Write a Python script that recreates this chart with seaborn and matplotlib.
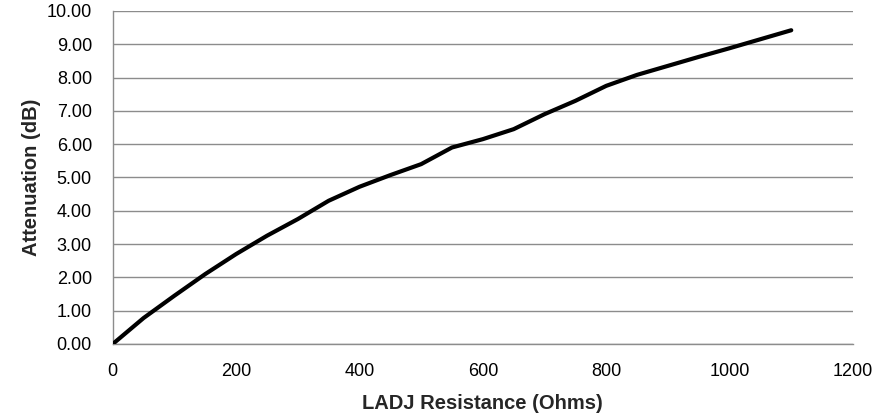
import pandas as pd
import matplotlib
matplotlib.use("Agg")
import matplotlib.pyplot as plt
import seaborn as sns
from matplotlib.ticker import FormatStrFormatter

# values
resistance = [0, 50, 100, 150, 200, 250, 300, 350, 400, 450, 500, 550,
              600, 650, 700, 750, 800, 850, 900, 950, 1000, 1050, 1100]
attenuation = [0.0, 0.78, 1.45, 2.1, 2.7, 3.25, 3.75, 4.3, 4.72, 5.07, 5.4, 5.9,
               6.15, 6.45, 6.9, 7.3, 7.75, 8.08, 8.35, 8.62, 8.88, 9.15, 9.42]
x_ticks = [0, 200, 400, 600, 800, 1000, 1200]
y_ticks = [0, 1, 2, 3, 4, 5, 6, 7, 8, 9, 10]

df = pd.DataFrame({"LADJ Resistance (Ohms)": resistance,
                   "Attenuation (dB)": attenuation})

sns.set_style("white")
plt.rcParams['font.family'] = ['Liberation Sans', 'DejaVu Sans']

fig = plt.figure(figsize=(8.95, 4.2), dpi=100)
ax = fig.add_axes([0.126, 0.181, 0.827, 0.793])

sns.lineplot(data=df, x="LADJ Resistance (Ohms)", y="Attenuation (dB)",
             color="black", linewidth=3.0, ax=ax, zorder=3)
ax.lines[0].set_solid_joinstyle("round")
ax.lines[0].set_solid_capstyle("round")

ax.set_xlim(0, 1200)
ax.set_ylim(0, 10)
ax.set_xticks(x_ticks)
ax.set_yticks(y_ticks)
ax.yaxis.set_major_formatter(FormatStrFormatter("%.2f"))
ax.grid(axis="y", color="#8c8c8c", linewidth=1)
ax.set_axisbelow(True)

for side in ["top", "right"]:
    ax.spines[side].set_visible(False)
for side in ["left", "bottom"]:
    ax.spines[side].set_color("#8c8c8c")
    ax.spines[side].set_linewidth(1)

ax.tick_params(axis="both", direction="out", length=5, width=1, color="#8c8c8c",
               labelsize=13, labelcolor="black")
ax.tick_params(axis="x", pad=9)
ax.tick_params(axis="y", pad=10)

ax.set_xlabel("LADJ Resistance (Ohms)", fontsize=14.5, fontweight="bold", labelpad=10)
ax.set_ylabel("Attenuation (dB)", fontsize=14.5, fontweight="bold", labelpad=4)

plt.savefig("out.png", dpi=100)
